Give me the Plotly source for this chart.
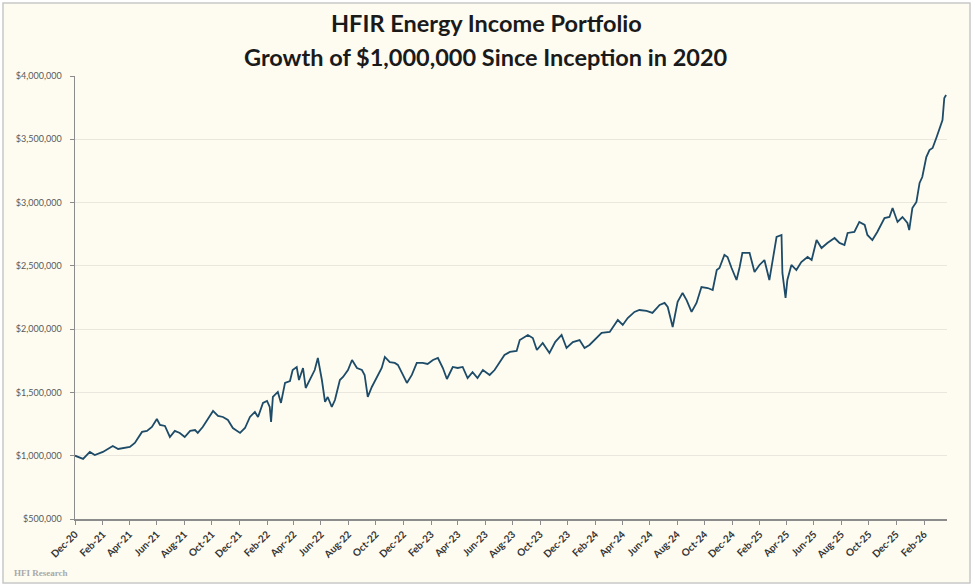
import plotly.graph_objects as go

# ---------------- data ----------------
dates = [
    "2020-12-01", "2020-12-19", "2021-01-03", "2021-01-14", "2021-02-01", "2021-02-17", "2021-02-23",
    "2021-03-07", "2021-03-18", "2021-04-02", "2021-04-13", "2021-04-29", "2021-05-10", "2021-05-21",
    "2021-06-01", "2021-06-08", "2021-06-19", "2021-06-30", "2021-07-11", "2021-07-22", "2021-08-02",
    "2021-08-14", "2021-08-25", "2021-08-31", "2021-09-11", "2021-09-23", "2021-10-04", "2021-10-15",
    "2021-10-26", "2021-11-06", "2021-11-17", "2021-12-03", "2021-12-14", "2021-12-25", "2022-01-05",
    "2022-01-12", "2022-01-23", "2022-02-01", "2022-02-07", "2022-02-10", "2022-02-14", "2022-02-25",
    "2022-03-04", "2022-03-13", "2022-03-24", "2022-03-30", "2022-04-08", "2022-04-13", "2022-04-22",
    "2022-04-28", "2022-05-07", "2022-05-18", "2022-05-25", "2022-06-03", "2022-06-10", "2022-06-16",
    "2022-06-25", "2022-07-02", "2022-07-13", "2022-07-20", "2022-07-31", "2022-08-09", "2022-08-20",
    "2022-08-31", "2022-09-06", "2022-09-13", "2022-09-22", "2022-10-03", "2022-10-14", "2022-10-21",
    "2022-11-01", "2022-11-12", "2022-11-19", "2022-11-28", "2022-12-09", "2022-12-20", "2022-12-31",
    "2023-01-13", "2023-01-24", "2023-02-05", "2023-02-16", "2023-02-27", "2023-03-08", "2023-03-21",
    "2023-04-01", "2023-04-12", "2023-04-23", "2023-05-04", "2023-05-15", "2023-05-27", "2023-06-11",
    "2023-06-22", "2023-07-03", "2023-07-14", "2023-07-26", "2023-08-10", "2023-08-17", "2023-09-04",
    "2023-09-15", "2023-09-24", "2023-10-07", "2023-10-22", "2023-11-04", "2023-11-18", "2023-11-29",
    "2023-12-13", "2023-12-28", "2024-01-08", "2024-01-19", "2024-02-04", "2024-02-15", "2024-03-04",
    "2024-03-22", "2024-04-02", "2024-04-13", "2024-04-28", "2024-05-09", "2024-05-25", "2024-06-07",
    "2024-06-23", "2024-07-04", "2024-07-11", "2024-07-22", "2024-08-02", "2024-08-13", "2024-08-22",
    "2024-09-02", "2024-09-13", "2024-09-24", "2024-10-08", "2024-10-19", "2024-10-28", "2024-11-03",
    "2024-11-14", "2024-11-21", "2024-11-30", "2024-12-11", "2024-12-18", "2024-12-24", "2025-01-09",
    "2025-01-20", "2025-01-31", "2025-02-11", "2025-02-22", "2025-03-10", "2025-03-21", "2025-03-23",
    "2025-03-30", "2025-04-03", "2025-04-12", "2025-04-23", "2025-05-04", "2025-05-18", "2025-05-27",
    "2025-06-07", "2025-06-18", "2025-07-01", "2025-07-17", "2025-07-28", "2025-08-08", "2025-08-15",
    "2025-08-30", "2025-09-10", "2025-09-22", "2025-09-28", "2025-10-09", "2025-10-20", "2025-11-05",
    "2025-11-16", "2025-11-23", "2025-12-04", "2025-12-15", "2025-12-26", "2025-12-30", "2026-01-06",
    "2026-01-15", "2026-01-22", "2026-01-28", "2026-02-06", "2026-02-13", "2026-02-20", "2026-03-01",
    "2026-03-07", "2026-03-14", "2026-03-18", "2026-03-22",
]

portfolio_value = [
    1000000, 975000, 1030000, 1005000, 1030000, 1060000, 1077000,
    1053000, 1061000, 1069000, 1101000, 1188000, 1196000, 1227000,
    1290000, 1243000, 1235000, 1148000, 1196000, 1180000, 1148000,
    1196000, 1203000, 1180000, 1227000, 1290000, 1354000, 1314000,
    1306000, 1282000, 1219000, 1180000, 1219000, 1306000, 1346000,
    1306000, 1417000, 1433000, 1385000, 1267000, 1464000, 1504000,
    1417000, 1575000, 1590000, 1677000, 1701000, 1598000, 1693000,
    1535000, 1598000, 1677000, 1772000, 1598000, 1425000, 1464000,
    1385000, 1440000, 1598000, 1622000, 1677000, 1756000, 1693000,
    1677000, 1638000, 1464000, 1543000, 1614000, 1693000, 1780000,
    1740000, 1733000, 1717000, 1654000, 1575000, 1638000, 1733000,
    1733000, 1725000, 1756000, 1772000, 1693000, 1606000, 1701000,
    1693000, 1701000, 1614000, 1661000, 1614000, 1677000, 1638000,
    1677000, 1733000, 1796000, 1820000, 1828000, 1914000, 1954000,
    1930000, 1835000, 1891000, 1812000, 1900000, 1954000, 1851000,
    1898000, 1914000, 1851000, 1875000, 1930000, 1970000, 1978000,
    2072000, 2033000, 2088000, 2136000, 2151000, 2144000, 2128000,
    2191000, 2207000, 2175000, 2017000, 2215000, 2286000, 2230000,
    2136000, 2207000, 2333000, 2325000, 2309000, 2467000, 2483000,
    2586000, 2570000, 2483000, 2388000, 2491000, 2602000, 2602000,
    2452000, 2507000, 2546000, 2388000, 2728000, 2744000, 2444000,
    2246000, 2388000, 2507000, 2467000, 2530000, 2570000, 2546000,
    2704000, 2641000, 2681000, 2720000, 2681000, 2665000, 2760000,
    2768000, 2847000, 2823000, 2744000, 2704000, 2768000, 2878000,
    2886000, 2957000, 2847000, 2886000, 2839000, 2783000, 2957000,
    3005000, 3155000, 3202000, 3360000, 3415000, 3431000, 3518000,
    3573000, 3652000, 3826000, 3850000,
]

title_lines = ["HFIR Energy Income Portfolio", "Growth of $1,000,000 Since Inception in 2020"]
y_ticks = [500000, 1000000, 1500000, 2000000, 2500000, 3000000, 3500000, 4000000]
watermark = "HFI Research"

# ---------------- figure ----------------
W, H = 975, 587
L, R, T, B = 75, 947, 76, 519  # plot area in pixels


def px_x(p):
    return (p - L) / (R - L)


def px_y(p):
    return (B - p) / (B - T)


cream = "#FEFCF1"

fig = go.Figure()
fig.add_trace(go.Scatter(
    x=dates, y=portfolio_value, mode="lines",
    line=dict(color="#1D4B68", width=1.8),
    hoverinfo="skip", showlegend=False,
))

fig.update_layout(
    width=W, height=H,
    margin=dict(l=L, r=W - R, t=T, b=H - B, pad=0),
    paper_bgcolor="white",
    plot_bgcolor=cream,
    font=dict(family="Lato", color="#404040"),
    showlegend=False,
    xaxis=dict(
        type="date",
        range=["2020-12-01", "2026-03-24"],
        tick0="2020-12-01", dtick="M2", tickformat="%b-%y",
        tickangle=-45,
        tickfont=dict(family="Lato", size=10, color="#333333", weight="bold"),
        showgrid=False, zeroline=False,
        showline=True, linecolor="#8C8C8C", linewidth=1.5,
        ticks="outside", ticklen=4, tickcolor="#8C8C8C",
    ),
    yaxis=dict(
        range=[500000, 4000000],
        tickvals=y_ticks,
        ticktext=[f"${v:,.0f}" for v in y_ticks],
        tickfont=dict(family="Lato", size=9, color="#595959"),
        ticklabelstandoff=6,
        showgrid=True, gridcolor="#E9E7DE", gridwidth=1,
        zeroline=False,
        showline=True, linecolor="#8C8C8C", linewidth=1.5,
        ticks="outside", ticklen=4, tickcolor="#8C8C8C",
    ),
)

# chart frame (cream area with grey border)
fig.add_shape(
    type="rect", xref="paper", yref="paper", layer="below",
    x0=px_x(3), x1=px_x(970), y0=px_y(583), y1=px_y(3),
    line=dict(color="#C8C8C8", width=1.5), fillcolor=cream,
)

# titles
fig.add_annotation(
    text=title_lines[0], xref="paper", yref="paper",
    x=px_x(486), y=px_y(23), xanchor="center", yanchor="middle", showarrow=False,
    font=dict(family="Lato", size=23.5, color="#1A1A1A", weight="bold"),
)
fig.add_annotation(
    text=title_lines[1], xref="paper", yref="paper",
    x=px_x(486), y=px_y(57), xanchor="center", yanchor="middle", showarrow=False,
    font=dict(family="Lato", size=23.5, color="#1A1A1A", weight="bold"),
)

# watermark
fig.add_annotation(
    text=watermark, xref="paper", yref="paper",
    x=px_x(12), y=px_y(573), xanchor="left", yanchor="middle", showarrow=False,
    font=dict(family="Liberation Serif", size=9, color="#A9A9A9", weight="bold"),
)

fig.write_html(
    "out.html",
    config={"displayModeBar": False, "staticPlot": True},
    post_script="document.body.style.margin='0px';document.body.style.overflow='hidden';",
)
